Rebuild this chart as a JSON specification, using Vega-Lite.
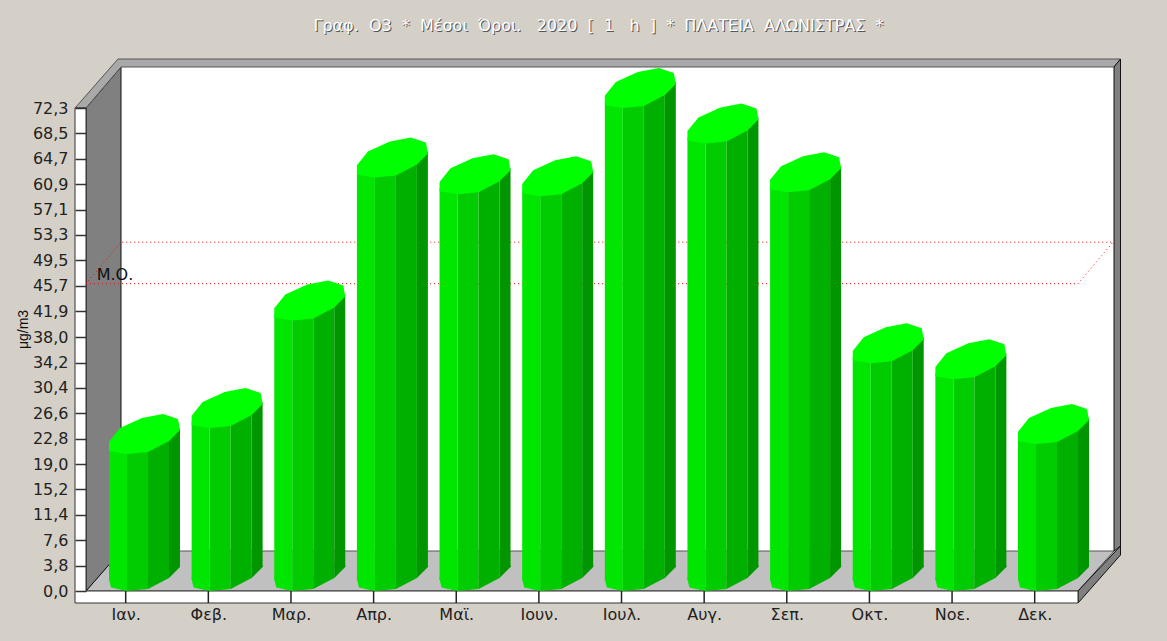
{"$schema":"https://vega.github.io/schema/vega-lite/v6.json","width":1003,"height":495,"padding":{"left":75,"top":108,"right":89,"bottom":38},"autosize":"none","background":"#d4d0c8","view":{"stroke":null},
"data":{"values":[{"month":"Ιαν.","value":20.5},{"month":"Φεβ.","value":24.4},{"month":"Μαρ.","value":40.5},{"month":"Απρ.","value":61.9},{"month":"Μαϊ.","value":59.4},{"month":"Ιουν.","value":59.1},{"month":"Ιουλ.","value":72.3},{"month":"Αυγ.","value":67.0},{"month":"Σεπ.","value":59.7},{"month":"Οκτ.","value":34.1},{"month":"Νοε.","value":31.7},{"month":"Δεκ.","value":22.0}]},
"encoding":{"x":{"field":"month","type":"nominal","title":null,"scale":{"type":"point","padding":0,"domain":["Ιαν.","Φεβ.","Μαρ.","Απρ.","Μαϊ.","Ιουν.","Ιουλ.","Αυγ.","Σεπ.","Οκτ.","Νοε.","Δεκ."],"range":[50.7,959.7]},"axis":{"zindex":1,"labelAngle":0,"domain":false,"ticks":false,"labelPadding":3,"labelFont":"DejaVu Sans","labelFontSize":16,"labelColor":"#222222"}},
"y":{"field":"value","type":"quantitative","title":"μg/m3","scale":{"domain":[-1.796,72.3],"nice":false,"zero":false},"axis":{"zindex":1,"values":[0,3.8,7.6,11.4,15.2,19,22.8,26.6,30.4,34.2,38,41.9,45.7,49.5,53.3,57.1,60.9,64.7,68.5,72.3],"labelExpr":"replace(format(datum.value,'.1f'),'.',',')","domain":false,"grid":false,"tickSize":-11,"tickColor":"#333333","tickWidth":1.5,"labelPadding":18,"labelFont":"DejaVu Sans","labelFontSize":16,"labelColor":"#222222","titleFont":"Liberation Sans","titleFontSize":14,"titleFontWeight":"normal","titleColor":"#111111","titleX":-45,"titleY":221,"titleAngle":-90}}},
"layer":[
{"data":{"values":[{"month":"Ιαν.","value":0}]},"mark":{"type":"point","filled":true,"opacity":1,"size":4,"color":"#ffffff","shape":"M-4.7 -524L988.3 -524L988.3 -40L-4.7 -40Z"}},
{"data":{"values":[{"month":"Ιαν.","value":0}]},"mark":{"type":"point","filled":true,"opacity":1,"size":4,"color":"#c0c0c0","stroke":"#555555","strokeWidth":1,"shape":"M-39.7 0L-4.7 -40L988.3 -40L952.3 0Z"}},
{"data":{"values":[{"month":"Ιαν.","value":0}]},"mark":{"type":"point","filled":true,"opacity":1,"size":4,"color":"#808080","stroke":"#111111","strokeWidth":1,"shape":"M-39.7 -483L-4.7 -524L-4.7 -40L-39.7 0Z"}},
{"data":{"values":[{"month":"Ιαν.","value":0}]},"mark":{"type":"point","filled":true,"opacity":1,"size":4,"color":"#a9a9a9","stroke":"#555555","strokeWidth":1,"shape":"M-50.7 -483L-7.7 -532L994.8 -532L988.3 -524L-4.7 -524L-39.7 -483Z"}},
{"data":{"values":[{"month":"Ιαν.","value":0}]},"mark":{"type":"point","filled":true,"opacity":1,"size":4,"color":"#808080","stroke":"#111111","strokeWidth":1,"shape":"M988.3 -524L994.8 -532L994.8 -36L952.3 12L952.3 0L994.8 -45L988.3 -40Z"}},
{"data":{"values":[{"month":"Ιαν.","value":0}]},"mark":{"type":"point","filled":true,"opacity":1,"size":4,"color":"#ffffff","stroke":"#333333","strokeWidth":1,"shape":"M-50.7 -483L-39.7 -483L-39.7 0L952.3 0L952.3 12L-50.7 12Z"}},
{"data":{"values":[{"month":"Ιαν.","value":46}]},"mark":{"type":"point","filled":false,"opacity":1,"size":4,"color":"#ff0000","strokeWidth":1,"strokeDash":[1,3],"shape":"M-39.7 0L952.3 0L987.3 -41.5L-4.7 -41.5Z"}},
{"data":{"values":[{"month":"Ιαν.","value":46,"label":"Μ.Ο."}]},"mark":{"type":"text","align":"left","baseline":"middle","dx":-29,"dy":-9,"font":"DejaVu Sans","fontSize":16,"color":"#111111"},"encoding":{"text":{"field":"label"}}},
{"data":{"values":[{"month":"Ιαν.","value":72.3,"label":"Γραφ.\u00a0 O3\u00a0 *\u00a0 Μέσοι\u00a0 Όροι.\u00a0\u00a0 2020\u00a0 [\u00a0 1\u00a0\u00a0 h\u00a0 ]\u00a0 *\u00a0 ΠΛΑΤΕΙΑ\u00a0 ΑΛΩΝΙΣΤΡΑΣ\u00a0 *"}]},"mark":{"type":"text","align":"center","baseline":"alphabetic","dx":473.8,"dy":-76,"font":"DejaVu Sans","fontSize":16,"color":"#555555"},"encoding":{"text":{"field":"label"}}},
{"data":{"values":[{"month":"Ιαν.","value":72.3,"label":"Γραφ.\u00a0 O3\u00a0 *\u00a0 Μέσοι\u00a0 Όροι.\u00a0\u00a0 2020\u00a0 [\u00a0 1\u00a0\u00a0 h\u00a0 ]\u00a0 *\u00a0 ΠΛΑΤΕΙΑ\u00a0 ΑΛΩΝΙΣΤΡΑΣ\u00a0 *"}]},"mark":{"type":"text","align":"center","baseline":"alphabetic","dx":472.8,"dy":-77,"font":"DejaVu Sans","fontSize":16,"color":"#ffffff"},"encoding":{"text":{"field":"label"}}},
{"mark":{"type":"bar","width":18,"xOffset":-7.7,"yOffset":-6,"color":"#00e600","y2Offset":-11.5},"encoding":{"y2":{"datum":0}}},
{"mark":{"type":"bar","width":21,"xOffset":11.8,"yOffset":-3,"color":"#00cc00","y2Offset":-2},"encoding":{"y2":{"datum":0}}},
{"mark":{"type":"bar","width":21,"xOffset":32.8,"yOffset":-15,"color":"#00b000","y2Offset":-13},"encoding":{"y2":{"datum":0}}},
{"mark":{"type":"bar","width":11,"xOffset":48.8,"yOffset":-26,"color":"#009600","y2Offset":-24},"encoding":{"y2":{"datum":0}}},
{"mark":{"type":"point","filled":true,"opacity":1,"size":4,"color":"#00e600","shape":"M-16.7 -14L-16.7 -11.5L-14.7 -3.5L1.3 0L1.3 -14Z"},"encoding":{"y":{"datum":0}}},
{"mark":{"type":"point","filled":true,"opacity":1,"size":4,"color":"#00cc00","shape":"M1.3 -4L1.3 0L22.3 -2L22.3 -4Z"},"encoding":{"y":{"datum":0}}},
{"mark":{"type":"point","filled":true,"opacity":1,"size":4,"color":"#00b000","shape":"M22.3 -15L22.3 -2L43.3 -13L43.3 -15Z"},"encoding":{"y":{"datum":0}}},
{"mark":{"type":"point","filled":true,"opacity":1,"size":4,"color":"#009600","shape":"M43.3 -26L43.3 -13L54.3 -24L54.3 -26Z"},"encoding":{"y":{"datum":0}}},
{"mark":{"type":"point","filled":true,"opacity":1,"size":4,"color":"#00ff00","shape":"M-16.7 -12.3L-5.7 -26L16.3 -36L37.3 -40L52.3 -35L54.3 -24L43.3 -13L22.3 -2L1.3 0L-16.7 -3Z"}},
{"mark":{"type":"point","filled":false,"opacity":1,"size":4,"color":"#222222","strokeWidth":1.5,"shape":"M0 0L0 12"},"encoding":{"y":{"datum":0}}}
]}
